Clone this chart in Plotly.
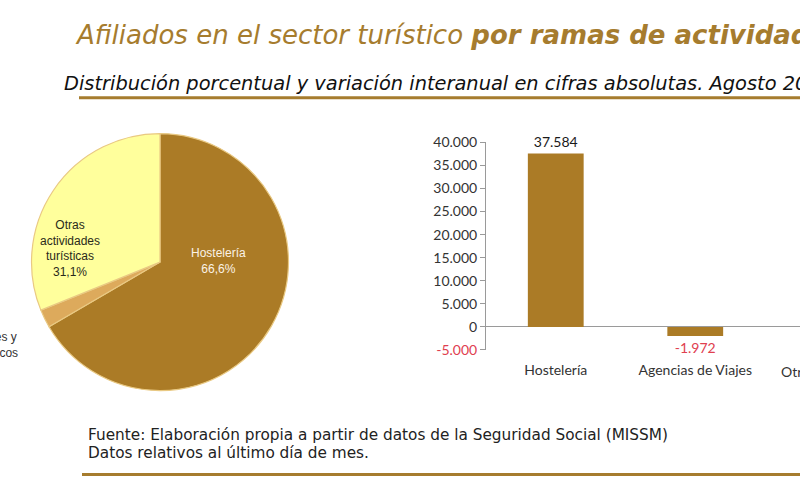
import plotly.graph_objects as go

# ---------------- data ----------------
pie_labels = ["Hostelería", "Agencias de viajes y operadores turísticos", "Otras actividades turísticas"]
pie_values = [66.6, 2.3, 31.1]
pie_colors = ["#AB7B26", "#DDAA5C", "#FFFF9C"]

bar_categories = ["Hostelería", "Agencias de Viajes", "Otras actividades turísticas"]
bar_values = [37584, -1972, None]

y_ticks = [-5000, 0, 5000, 10000, 15000, 20000, 25000, 30000, 35000, 40000]

title_plain = "Afiliados en el sector turístico "
title_bold = "por ramas de actividad"
subtitle = "Distribución porcentual y variación interanual en cifras absolutas. Agosto 2016"
footer_1 = "Fuente: Elaboración propia a partir de datos de la Seguridad Social (MISSM)"
footer_2 = "Datos relativos al último día de mes."

# ---------------- helpers ----------------
W, H = 800, 500
GOLD = "#A67C2E"
RED = "#E0404F"
SANS = "DejaVu Sans"


def xp(px):
    return px / W


def yp(py):
    return 1 - py / H


def fmt_int(v):
    s = f"{abs(v):,.0f}".replace(",", ".")
    return ("-" if v < 0 else "") + s


def fmt_pct(v):
    return f"{v:.1f}".replace(".", ",") + "%"


fig = go.Figure()

# ---------------- pie ----------------
cx, cy, r = 160, 262, 133
fig.add_trace(go.Pie(
    labels=pie_labels,
    values=pie_values,
    sort=False,
    direction="clockwise",
    rotation=0,
    marker=dict(colors=pie_colors, line=dict(color="#E9C983", width=1.2)),
    textinfo="none",
    hoverinfo="label+percent",
    showlegend=False,
    domain=dict(x=[xp(cx - r), xp(cx + r)], y=[yp(cy + r), yp(cy - r)]),
))

# ---------------- bars ----------------
x_dom = [xp(486), 1.0]
y_dom = [yp(353), yp(138)]
spacing = 139.5
x_range = [-0.5, -0.5 + (800 - 486) / spacing]

bar_text = [fmt_int(v) if v is not None else "" for v in bar_values]
bar_text_colors = ["#1A1A1A" if (v is not None and v >= 0) else RED for v in bar_values]

fig.add_trace(go.Bar(
    x=bar_categories,
    y=bar_values,
    width=0.4,
    marker=dict(color="#AB7B26", line=dict(width=0)),
    text=bar_text,
    textposition="outside",
    textfont=dict(family="Lato", size=14, color=bar_text_colors),
    cliponaxis=False,
    showlegend=False,
    xaxis="x",
    yaxis="y",
))

tick_text = [
    f'<span style="color:{RED}">{fmt_int(v)}</span>' if v < 0 else fmt_int(v)
    for v in y_ticks
]

fig.update_layout(
    width=W,
    height=H,
    margin=dict(l=0, r=0, t=0, b=0),
    paper_bgcolor="white",
    plot_bgcolor="white",
    xaxis=dict(
        domain=x_dom,
        range=x_range,
        type="category",
        showline=False,
        showgrid=False,
        ticks="",
        ticklabelstandoff=10,
        tickfont=dict(family="Lato", size=14, color="#333333"),
        zeroline=False,
        fixedrange=True,
    ),
    yaxis=dict(
        domain=y_dom,
        range=[-5000, 40000],
        tickvals=y_ticks,
        ticktext=tick_text,
        showline=True,
        linecolor="#9A9A9A",
        linewidth=1,
        ticks="outside",
        ticklen=5,
        tickcolor="#9A9A9A",
        showgrid=False,
        zeroline=True,
        zerolinecolor="#9A9A9A",
        zerolinewidth=1,
        tickfont=dict(family="Lato", size=14, color="#333333"),
        fixedrange=True,
    ),
)

# third category label, partly outside the picture
third_center_px = 486 + (2 - x_range[0]) * spacing
annotations = [
    dict(text="<i>" + title_plain + "<b>" + title_bold + "</b></i>",
         xref="paper", yref="paper", x=xp(73), y=yp(27), xanchor="left", yanchor="middle",
         showarrow=False, font=dict(family=SANS, size=26, color=GOLD)),
    dict(text="<i>" + subtitle + "</i>",
         xref="paper", yref="paper", x=xp(62), y=yp(77), xanchor="left", yanchor="middle",
         showarrow=False, font=dict(family=SANS, size=19.4, color="#111111")),
    dict(text=footer_1,
         xref="paper", yref="paper", x=xp(86), y=yp(441), xanchor="left", yanchor="middle",
         showarrow=False, font=dict(family=SANS, size=15.3, color="#222222")),
    dict(text=footer_2,
         xref="paper", yref="paper", x=xp(86), y=yp(460), xanchor="left", yanchor="middle",
         showarrow=False, font=dict(family=SANS, size=15.3, color="#222222")),
    # pie labels
    dict(text="Otras<br>actividades<br>turísticas<br>" + fmt_pct(pie_values[2]),
         xref="paper", yref="paper", x=xp(70), y=yp(248), xanchor="center", yanchor="middle",
         showarrow=False, align="center",
         font=dict(family="Liberation Sans", size=12, color="#2A2A1A")),
    dict(text=pie_labels[0] + "<br>" + fmt_pct(pie_values[0]),
         xref="paper", yref="paper", x=xp(218), y=yp(261), xanchor="center", yanchor="middle",
         showarrow=False, align="center",
         font=dict(family="Liberation Sans", size=12, color="#FBF3E6")),
    dict(text="Agencias de viajes y<br>operadores turísticos<br>" + fmt_pct(pie_values[1]),
         xref="paper", yref="paper", x=xp(20), y=yp(356), xanchor="right", yanchor="middle",
         showarrow=False, align="center",
         font=dict(family="Liberation Sans", size=12, color="#333333")),
    dict(text="Otras actividades<br>turísticas",
         xref="paper", yref="paper", x=xp(third_center_px), y=yp(364), xanchor="center", yanchor="top",
         showarrow=False, align="center",
         font=dict(family="Lato", size=14, color="#333333")),
]
fig.update_layout(annotations=annotations)

fig.update_layout(shapes=[
    dict(type="line", xref="paper", yref="paper", x0=xp(79), x1=1.0, y0=yp(92), y1=yp(92),
         line=dict(color=GOLD, width=3)),
    dict(type="line", xref="paper", yref="paper", x0=xp(82), x1=1.0, y0=yp(482), y1=yp(482),
         line=dict(color=GOLD, width=3)),
])

fig.write_html(
    "out.html",
    config={"displayModeBar": False},
    post_script="document.body.style.margin='0';document.body.style.overflow='hidden';",
)
